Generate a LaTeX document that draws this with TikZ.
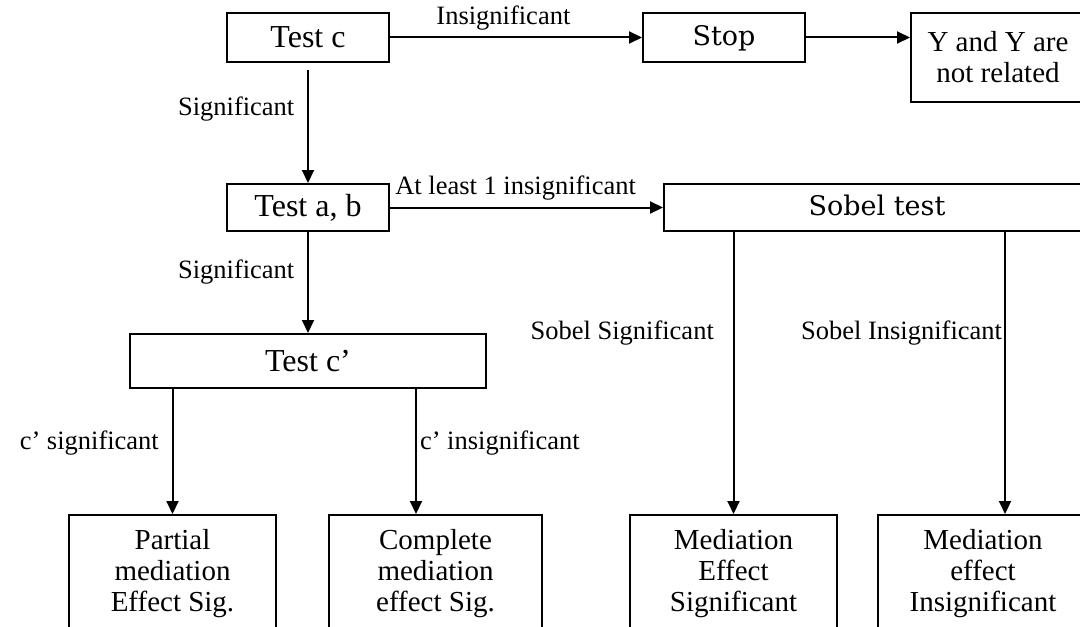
\documentclass[tikz,border=0pt]{standalone}
\usepackage{fontspec}
\setmainfont{Liberation Serif}
\newfontfamily\slabfont{DejaVu Serif}
\usetikzlibrary{arrows.meta,positioning,calc}

\begin{document}
\begin{tikzpicture}
[x=0.5pt,y=-0.5pt,
block/.style={shape=rectangle,draw=black,line width=1pt,inner sep=2pt,font=\fontsize{16}{18}\selectfont},
slabblock/.style={block,font=\slabfont\fontsize{13.5}{16}\selectfont,text depth=0.5ex},
tallblock/.style={block,align=center,font=\fontsize{14.5}{15.5}\selectfont},
myarrow/.style={line width=1pt,-{Triangle[length=6.5pt,width=6pt]}},
lbl/.style={font=\fontsize{13.25}{15}\selectfont}]
%%
\useasboundingbox (0,0) rectangle (1080,626);
\clip (0,0) rectangle (1080,626);
%% top row
\node (testc) [block,minimum width=81pt,minimum height=24.5pt] at (308,37.5) {Test c};
\node (stop) [slabblock,minimum width=81pt,minimum height=24.5pt] at (724,37.5) {Stop};
\node (notrel) [tallblock,minimum width=87pt,minimum height=44.5pt] at (998,57.5) {Y and Y are\\not related};
%% middle row
\node (testab) [block,minimum width=81pt,minimum height=23.5pt] at (308,207.5) {Test a, b};
\node (sobel) [slabblock,minimum width=213pt,minimum height=23.5pt] at (877,207.5) {Sobel test};
\node (testcp) [block,minimum width=178pt,minimum height=27pt] at (308,361) {Test c’};
%% bottom row
\node (partial) [tallblock,minimum width=103.5pt,minimum height=59pt] at (172.5,574) {Partial\\mediation\\Effect Sig.};
\node (complete) [tallblock,minimum width=106.5pt,minimum height=59pt] at (435.5,574) {Complete\\mediation\\effect Sig.};
\node (medsig) [tallblock,minimum width=103.5pt,minimum height=59pt] at (733.5,574) {Mediation\\Effect\\Significant};
\node (medinsig) [tallblock,minimum width=105pt,minimum height=59pt] at (983,574) {Mediation\\effect\\Insignificant};
\coordinate (cpin) at ([xshift=-9.75pt]complete.north);
\coordinate (mipin) at ([xshift=11pt]medinsig.north);
%%
\draw[myarrow] (testc) -- node[lbl,above,pos=0.45] {Insignificant} (stop);
\draw[myarrow] (stop.east) -- (stop.east -| notrel.west);
\draw[myarrow,shorten <=3.5pt] (testc) -- node[lbl,left=3pt,pos=0.38] {Significant} (testab);
\draw[myarrow] (testab) -- node[lbl,above,pos=0.46] {At least 1 insignificant} (sobel);
\draw[myarrow] (testab) -- node[lbl,left=3pt,pos=0.4] {Significant} (testcp);
\draw[myarrow] (testcp.south -| partial) -- node[lbl,left=3pt,pos=0.43] {c’ significant} (partial);
\draw[myarrow] (testcp.south -| cpin) -- node[lbl,right,inner xsep=1.5pt,pos=0.43] {c’ insignificant} (cpin);
\draw[myarrow] (sobel.south -| medsig) -- node[lbl,left=6pt,pos=0.36] {Sobel Significant} (medsig);
\draw[myarrow] (sobel.south -| mipin) -- node[lbl,left,inner xsep=1pt,pos=0.36] {Sobel Insignificant} (mipin);
%%
\end{tikzpicture}
\end{document}
